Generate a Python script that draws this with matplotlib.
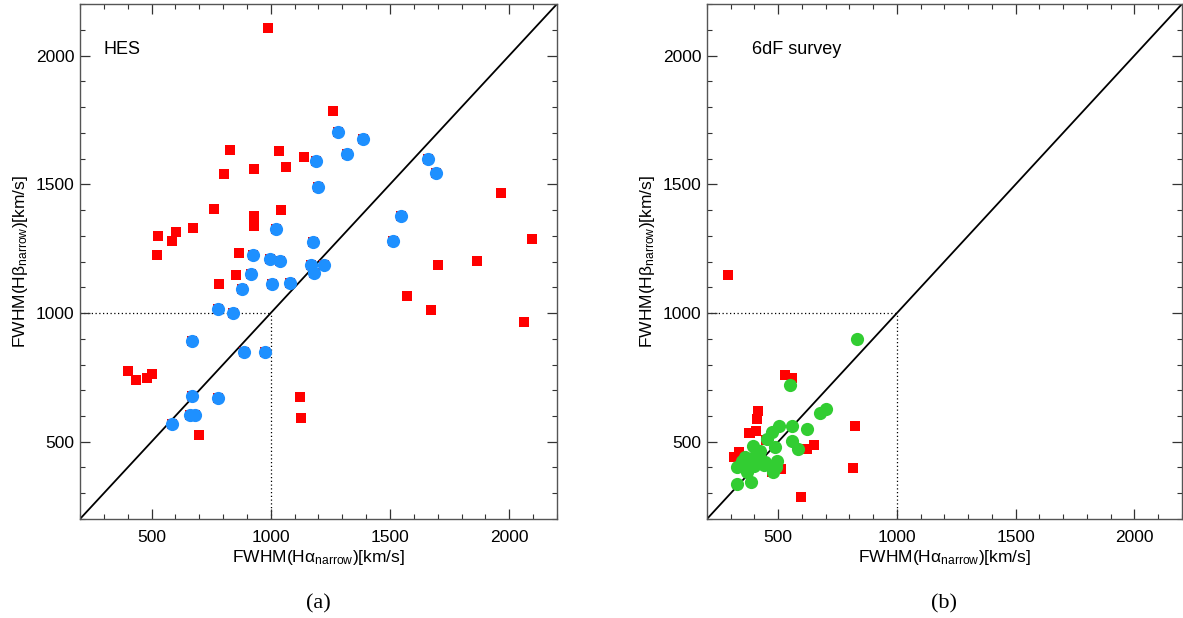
import matplotlib.pyplot as plt
from matplotlib.ticker import MultipleLocator

plt.rcParams["font.family"] = ["Liberation Sans", "DejaVu Sans"]
plt.rcParams["mathtext.fontset"] = "custom"
plt.rcParams["mathtext.rm"] = "Liberation Sans"
plt.rcParams["mathtext.it"] = "Liberation Sans:italic"

# panel (a): HES, red squares only
hes_red_x = [1262, 831, 1035, 1140, 931, 1065, 802, 763, 1043, 931, 931, 672, 601, 526, 585,
             522, 865, 856, 785, 990, 1964, 2097, 1863, 1700, 1571, 1671, 2060, 400, 434, 480,
             501, 697, 1124, 1128]
hes_red_y = [1784, 1633, 1629, 1607, 1560, 1567, 1540, 1405, 1401, 1377, 1339, 1331, 1315, 1300, 1281,
             1226, 1234, 1149, 1114, 2106, 1467, 1288, 1203, 1188, 1067, 1013, 967, 773, 739, 747,
             765, 525, 672, 591]

# panel (a): HES, blue circles
hes_blue_x = [1281, 1386, 1320, 1191, 1198, 1022, 1177, 926, 996, 1038, 1170, 1223, 1181, 919, 1007,
              1079, 880, 777, 840, 1661, 1693, 1546, 1511, 671, 888, 976, 671, 777, 662, 683, 585]
hes_blue_y = [1703, 1675, 1618, 1589, 1488, 1326, 1277, 1224, 1209, 1203, 1188, 1188, 1154, 1151, 1111,
              1116, 1093, 1016, 1000, 1600, 1545, 1377, 1279, 891, 850, 850, 677, 668, 602, 602, 569]

# panel (b): 6dF, red squares only
sdf_red_x = [527, 556, 414, 409, 405, 381, 335, 314, 824, 651, 622, 814, 598, 510, 474, 450, 289, 378]
sdf_red_y = [761, 746, 621, 590, 541, 533, 459, 441, 560, 486, 470, 397, 285, 394, 381, 507, 1146, 534]

# panel (b): 6dF, green circles
sdf_green_x = [832, 548, 700, 676, 502, 474, 560, 623, 453, 487, 560, 585, 392, 425, 404, 349, 328,
               376, 446, 495, 492, 478, 370, 328, 387, 412, 398, 360, 420, 440, 380, 350]
sdf_green_y = [898, 719, 629, 610, 562, 539, 560, 549, 510, 478, 504, 472, 482, 465, 446, 426, 401,
               420, 420, 426, 401, 384, 381, 335, 343, 432, 407, 440, 450, 410, 400, 410]

RED = "#ff0000"
BLUE = "#1e90ff"
GREEN = "#32cd32"
LIMITS = (200, 2200)
SQUARE_SIZE = 7.5
CIRCLE_SIZE = 9.5


def style_axis(axis, label):
    axis.set_xlim(*LIMITS)
    axis.set_ylim(*LIMITS)
    axis.xaxis.set_major_locator(MultipleLocator(500))
    axis.yaxis.set_major_locator(MultipleLocator(500))
    axis.xaxis.set_minor_locator(MultipleLocator(100))
    axis.yaxis.set_minor_locator(MultipleLocator(100))
    axis.tick_params(which="both", direction="in", top=True, right=True,
                     colors="#333333", labelcolor="black", labelsize=12.5)
    axis.tick_params(which="major", length=7, width=0.9)
    axis.tick_params(which="minor", length=3.5, width=0.8)
    axis.tick_params(axis="x", which="major", pad=8)
    axis.tick_params(axis="y", which="major", pad=4)
    for spine in axis.spines.values():
        spine.set_color("#555555")
        spine.set_linewidth(1.0)
    axis.set_xlabel(r"FWHM(H$\mathrm{\alpha_{narrow}}$)[km/s]", fontsize=12.5, labelpad=2)
    axis.set_ylabel(r"FWHM(H$\mathrm{\beta_{narrow}}$)[km/s]", fontsize=12.5, labelpad=4)
    axis.plot(LIMITS, LIMITS, color="black", lw=1.3, zorder=2)
    axis.plot([200, 1000], [1000, 1000], color="black", lw=0.9, ls=(0, (1, 2)), zorder=1)
    axis.plot([1000, 1000], [200, 1000], color="black", lw=0.9, ls=(0, (1, 2)), zorder=1)
    axis.text(0.5, -0.165, label, transform=axis.transAxes, ha="center", va="center",
              fontsize=16, family="Liberation Serif")


figure = plt.figure(figsize=(11.83, 6.18), dpi=100)
left = figure.add_axes([0.0676, 0.1602, 0.4032, 0.8333])
right = figure.add_axes([0.5976, 0.1602, 0.4015, 0.8333])

style_axis(left, "(a)")
left.plot(hes_red_x, hes_red_y, "s", color=RED, ms=SQUARE_SIZE, mew=0, zorder=3)
left.plot(hes_blue_x, hes_blue_y, "s", color=RED, ms=SQUARE_SIZE, mew=0, zorder=3)
left.plot(hes_blue_x, hes_blue_y, "o", color=BLUE, ms=CIRCLE_SIZE, mew=0, zorder=4)
left.text(0.05, 0.912, "HES", transform=left.transAxes, fontsize=13, va="center")

style_axis(right, "(b)")
right.plot(sdf_red_x, sdf_red_y, "s", color=RED, ms=SQUARE_SIZE, mew=0, zorder=3)
right.plot(sdf_green_x, sdf_green_y, "o", color=GREEN, ms=CIRCLE_SIZE, mew=0, zorder=4)
right.text(0.095, 0.912, "6dF survey", transform=right.transAxes, fontsize=13, va="center")

figure.savefig("out.png", dpi=100)
